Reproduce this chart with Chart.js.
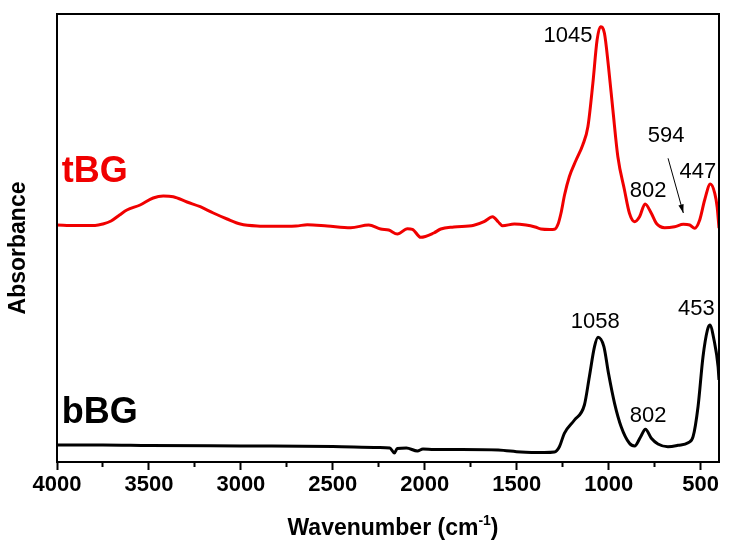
<!DOCTYPE html>
<html><head><meta charset="utf-8">
<script src="https://cdn.jsdelivr.net/npm/chart.js@4"></script>
<style>html,body{margin:0;padding:0;background:#fff}#wrap{width:731px;height:548px}</style>
</head><body>
<div id="wrap"><canvas id="c" width="731" height="548"></canvas></div>
<script>
// ---- data (wavenumber in cm-1, absorbance in arbitrary units) ----
const wnT  = [4000,3900,3793,3750,3706,3660,3620,3548,3477,3422,3368,3293,3221,3150,3075,3003,2912,2823,2700,2639,2530,2403,2305,2240,2196,2149,2094,2067,2022,1951,1913,1842,1733,1678,1631,1600,1577,1513,1450,1400,1368,1320,1295,1275,1259,1240,1214,1177,1141,1113,1086,1063,1045,1023,1001,977,950,914,887,859,832,802,768,741,696,641,594,559,532,505,478,447,423,410,400];
const absT = [2.37,2.365,2.365,2.38,2.41,2.47,2.52,2.57,2.64,2.66,2.653,2.60,2.553,2.49,2.43,2.38,2.36,2.357,2.36,2.373,2.36,2.343,2.37,2.33,2.32,2.28,2.333,2.327,2.247,2.29,2.33,2.35,2.367,2.403,2.453,2.40,2.363,2.38,2.37,2.35,2.33,2.325,2.327,2.38,2.49,2.67,2.853,3.02,3.17,3.353,3.787,4.22,4.353,4.287,3.953,3.52,3.053,2.72,2.487,2.403,2.453,2.58,2.487,2.387,2.343,2.353,2.377,2.37,2.337,2.42,2.62,2.78,2.687,2.55,2.34];
const wnB  = [4000,3750,3500,3000,2500,2250,2190,2165,2150,2100,2040,2010,1950,1800,1600,1477,1350,1295,1268,1241,1186,1132,1105,1077,1058,1026,1001,968,932,887,859,826,800,768,732,678,623,568,541,514,487,463,450,427,405,400];
const absB = [0.17,0.17,0.165,0.16,0.155,0.145,0.14,0.09,0.135,0.14,0.11,0.13,0.125,0.125,0.12,0.10,0.095,0.10,0.153,0.287,0.42,0.57,0.853,1.153,1.247,1.153,0.887,0.587,0.353,0.187,0.16,0.253,0.327,0.237,0.18,0.153,0.167,0.193,0.253,0.553,1.053,1.32,1.37,1.22,0.953,0.82];
const xTicks = [4000,3500,3000,2500,2000,1500,1000,500];
const xMinorTicks = [3750,3250,2750,2250,1750,1250,750];
const seriesNames = ['tBG','bBG'];
const peakTexts = ['1045','802','594','447','1058','802','453'];

// ---- annotation placement (data coordinates) ----
const FONT = 'Liberation Sans, Arial, Helvetica, sans-serif';
const notes = [
  {text: peakTexts[0], x:1221, y:4.20},
  {text: peakTexts[1], x:785,  y:2.653},
  {text: peakTexts[2], x:687,  y:3.203},
  {text: peakTexts[3], x:515,  y:2.84},
  {text: peakTexts[4], x:1073, y:1.34},
  {text: peakTexts[5], x:785,  y:0.403},
  {text: peakTexts[6], x:523,  y:1.47}
];
const seriesNotes = [
  {text: seriesNames[0], x:3974, y:2.80, color:'#f00000'},
  {text: seriesNames[1], x:3974, y:0.387, color:'#000000'}
];
const arrow = {x1:677, y1:3.037, x2:594, y2:2.49};

const decor = {
  id:'decor',
  afterDraw(chart){
    const {ctx, chartArea:a, scales:{x,y}} = chart;
    ctx.save();
    ctx.strokeStyle = '#000'; ctx.lineWidth = 2;
    ctx.strokeRect(a.left, a.top, a.right - a.left, a.bottom - a.top);
    // peak labels
    ctx.fillStyle = '#000';
    ctx.font = '22px ' + FONT;
    ctx.textAlign = 'center'; ctx.textBaseline = 'alphabetic';
    for (const n of notes) ctx.fillText(n.text, x.getPixelForValue(n.x), y.getPixelForValue(n.y));
    // series labels
    ctx.font = 'bold 36px ' + FONT;
    ctx.textAlign = 'left';
    for (const n of seriesNotes) { ctx.fillStyle = n.color; ctx.fillText(n.text, x.getPixelForValue(n.x), y.getPixelForValue(n.y)); }
    // arrow
    const ax1 = x.getPixelForValue(arrow.x1), ay1 = y.getPixelForValue(arrow.y1);
    const ax2 = x.getPixelForValue(arrow.x2), ay2 = y.getPixelForValue(arrow.y2);
    ctx.strokeStyle = '#000'; ctx.lineWidth = 1;
    ctx.beginPath(); ctx.moveTo(ax1, ay1); ctx.lineTo(ax2, ay2); ctx.stroke();
    const ang = Math.atan2(ay2 - ay1, ax2 - ax1), L = 9, W = 0.3;
    ctx.fillStyle = '#000';
    ctx.beginPath(); ctx.moveTo(ax2, ay2);
    ctx.lineTo(ax2 - L*Math.cos(ang - W), ay2 - L*Math.sin(ang - W));
    ctx.lineTo(ax2 - L*Math.cos(ang + W), ay2 - L*Math.sin(ang + W));
    ctx.closePath(); ctx.fill();
    // axis titles
    ctx.fillStyle = '#000';
    ctx.textBaseline = 'alphabetic';
    const big = 'bold 23px ' + FONT, small = 'bold 14px ' + FONT;
    const p1 = 'Wavenumber (cm', sup = '-1', p2 = ')';
    ctx.font = big; const w1 = ctx.measureText(p1).width, w3 = ctx.measureText(p2).width;
    ctx.font = small; const w2 = ctx.measureText(sup).width;
    const tw = w1 + w2 + w3; let tx = (a.left + a.right)/2 + 5 - tw/2; const ty = 535;
    ctx.textAlign = 'left';
    ctx.font = big; ctx.fillText(p1, tx, ty); tx += w1;
    ctx.font = small; ctx.fillText(sup, tx, ty - 10); tx += w2;
    ctx.font = big; ctx.fillText(p2, tx, ty);
    // y title
    ctx.save();
    ctx.translate(25, (a.top + a.bottom)/2 + 10);
    ctx.rotate(-Math.PI/2);
    ctx.textAlign = 'center';
    ctx.font = big;
    ctx.fillText('Absorbance', 0, 0);
    ctx.restore();
    ctx.restore();
  }
};

new Chart(document.getElementById('c'), {
  type: 'line',
  data: {
    datasets: [
      {label: seriesNames[0], data: wnT.map((v,i)=>({x:v, y:absT[i]})), borderColor:'#f00000', borderWidth:3, pointRadius:0, cubicInterpolationMode:'monotone', fill:false},
      {label: seriesNames[1], data: wnB.map((v,i)=>({x:v, y:absB[i]})), borderColor:'#000000', borderWidth:3, pointRadius:0, cubicInterpolationMode:'monotone', fill:false}
    ]
  },
  options: {
    responsive:false, animation:false,
    layout:{padding:{left:57, right:12, top:14, bottom:0}},
    plugins:{legend:{display:false}, tooltip:{enabled:false}},
    scales:{
      xMinor:{
        type:'linear', position:'bottom', weight:-1, min:400, max:4000, reverse:true,
        afterBuildTicks: s => { s.ticks = xMinorTicks.map(v=>({value:v})); },
        afterFit: s => { s.height = 0; },
        ticks:{display:false},
        grid:{drawOnChartArea:false, drawTicks:true, tickLength:5, tickWidth:2, tickColor:'#000'},
        border:{display:false}
      },
      x:{
        type:'linear', position:'bottom', weight:0, min:400, max:4000, reverse:true,
        afterBuildTicks: s => { s.ticks = xTicks.map(v=>({value:v})); },
        afterFit: s => { s.height = 86; },
        ticks:{color:'#000', font:{family:FONT, size:22, weight:'bold'}, padding:2, maxRotation:0, autoSkip:false, callback: v => String(v)},
        grid:{drawOnChartArea:false, drawTicks:true, tickLength:8, tickWidth:2, tickColor:'#000'},
        border:{display:false}
      },
      y:{display:false, min:0, max:4.48}
    }
  },
  plugins:[decor]
});
</script>
</body></html>
